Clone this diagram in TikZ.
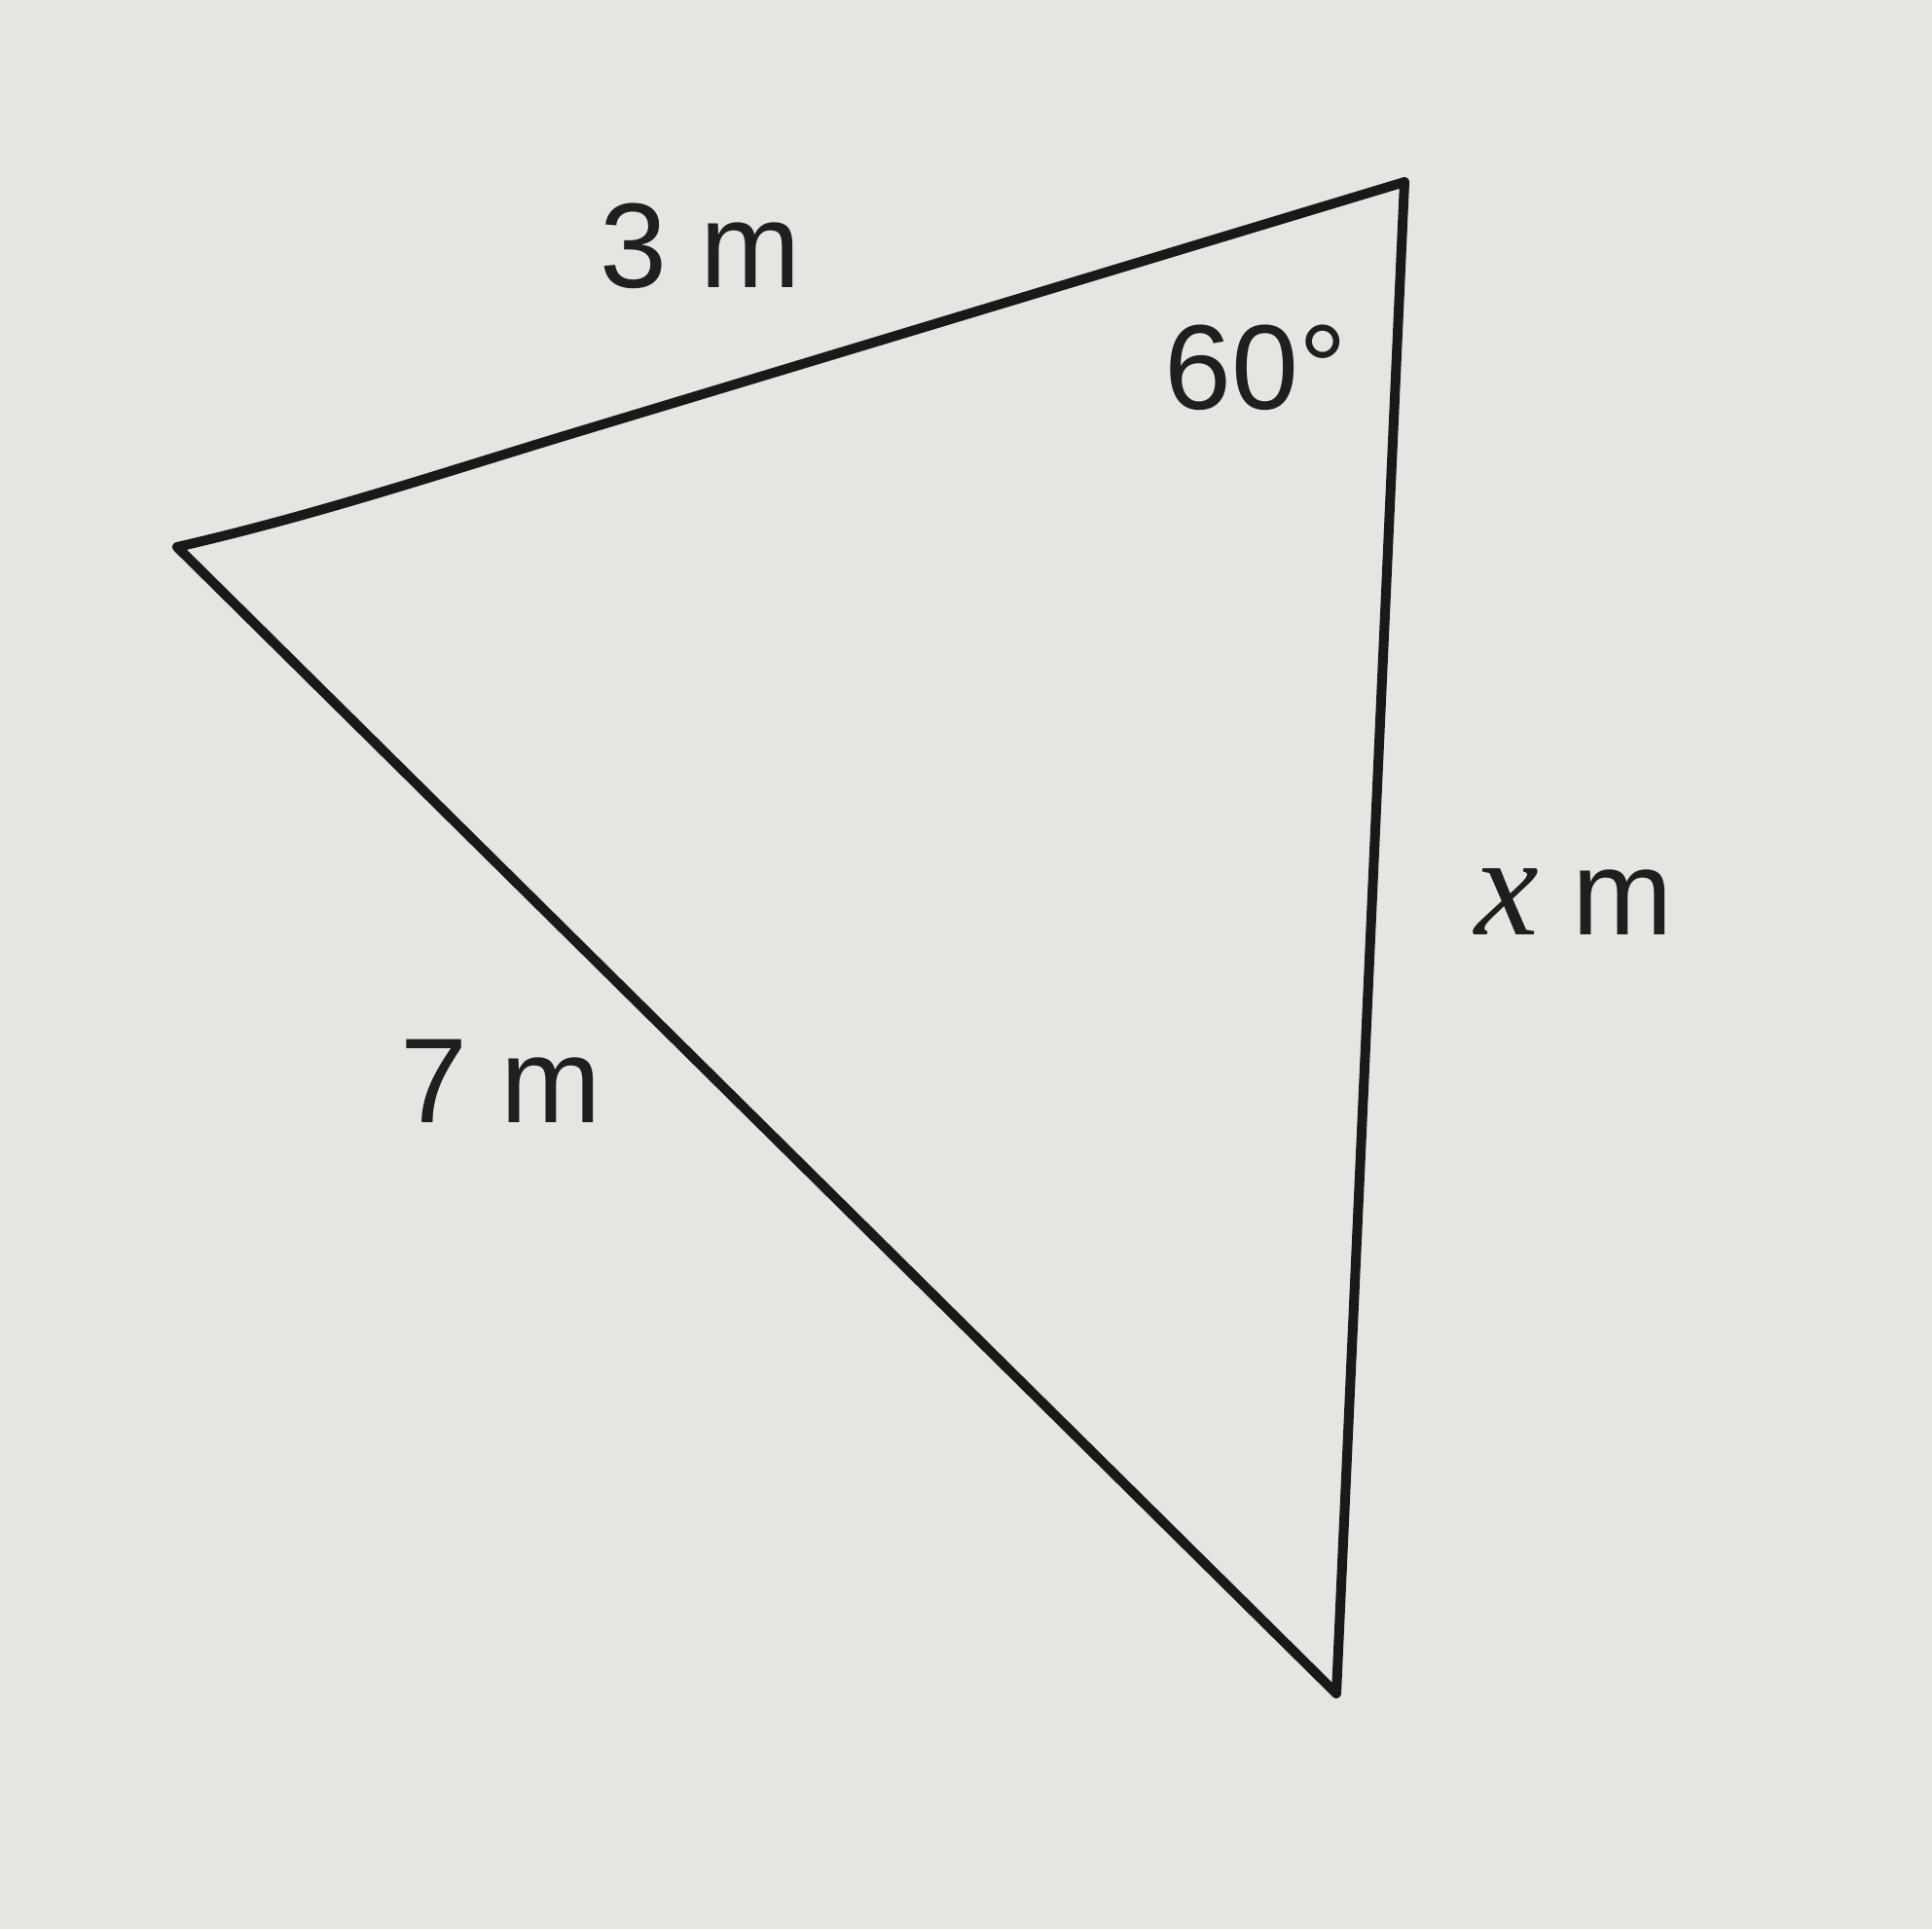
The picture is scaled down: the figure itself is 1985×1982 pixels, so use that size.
\documentclass[tikz,border=0pt]{standalone}
\usepackage{fontspec}
\setmainfont{Liberation Sans}
\newfontfamily\xserif{Liberation Serif}
\begin{document}
\begin{tikzpicture}[x=1pt,y=-1pt,
  edge/.style={line width=10pt,color=black!90,line join=round,line cap=round},
  lbl/.style={anchor=base,inner sep=0pt,text=black!88,font=\fontsize{124}{140}\selectfont}]
\definecolor{paper}{RGB}{229,229,226}
\fill[paper] (0,0) rectangle (1985,1982);
\useasboundingbox (0,0) rectangle (1985,1982);
\coordinate (L) at (182,562);
\coordinate (M) at (596,443);
\coordinate (T) at (1443,187);
\coordinate (B) at (1373,1740);
\draw[edge] (L) .. controls (330,528) and (460,484) .. (M) -- (T) -- (B) -- cycle;
\node[lbl] (a) at (720,295) {3 m};
\node[lbl] (b) at (1290,420) {60°};
\node[lbl] (c) at (1617,960) {{\xserif\itshape\fontsize{148}{150}\selectfont x} m};
\node[lbl] (d) at (515,1153) {7 m};
\end{tikzpicture}
\end{document}
